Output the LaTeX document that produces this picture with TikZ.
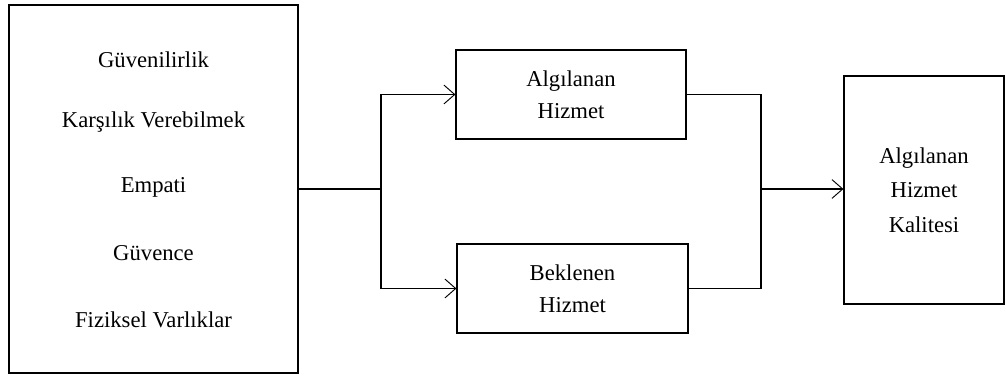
\documentclass[tikz,border=0pt]{standalone}
\usepackage{fontspec}
\setmainfont{Liberation Serif}
\usetikzlibrary{arrows.meta}
\tikzset{
    kutu/.style={draw, line width=0.9pt, inner sep=0pt, align=center,
        font=\fontsize{17}{24}\selectfont},
    yazi/.style={inner sep=0pt, font=\fontsize{17}{24}\selectfont},
    ok/.style={-{Straight Barb[length=8pt, width=14pt, line width=0.7pt]}},
    hat/.style={line width=0.9pt}
}
\begin{document}
\begin{tikzpicture}[x=0.75pt, y=-0.75pt]
        \useasboundingbox ( 0, 0 ) rectangle ( 1006, 378 );

        % boyutlar
        \node [kutu, minimum width=289*0.75pt, minimum height=368*0.75pt] (boyut) at ( 153.5, 189 ) {};
        \foreach \y/\t in {60/Güvenilirlik, 122/Karşılık Verebilmek, 187/Empati, 253/Güvence, 320/Fiziksel Varlıklar}
            \node [yazi] at ( 153.5, \y ) {\t};

        % algılanan ve beklenen hizmet
        \node [kutu, minimum width=230*0.75pt, minimum height=89*0.75pt] (alg) at ( 571, 94.5 ) {Algılanan\\Hizmet};
        \node [kutu, minimum width=231*0.75pt, minimum height=89*0.75pt] (bek) at ( 572.5, 288.5 ) {Beklenen\\Hizmet};

        % kalite
        \node [kutu, minimum width=160*0.75pt, minimum height=228*0.75pt,
            font=\fontsize{17}{26}\selectfont] (kal) at ( 924, 190 ) {Algılanan\\Hizmet\\Kalitesi};

        % bağlantılar
        \coordinate (ayr) at ( 381, 189 );
        \coordinate (bir) at ( 761, 189 );
        \draw [hat] (boyut.east) -- (ayr);
        \draw [hat, ok] (ayr) |- (alg.west);
        \draw [hat, ok] (ayr) |- (bek.west);
        \draw [hat] (alg.east) -| (bir);
        \draw [hat] (bek.east) -| (bir);
        \draw [hat, ok] (bir) -- (kal.west |- bir);
    \end{tikzpicture}
\end{document}
